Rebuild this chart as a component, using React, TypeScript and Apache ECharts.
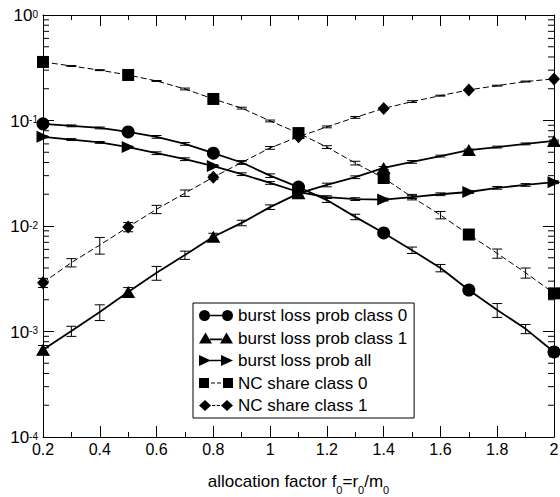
import React, { useEffect, useRef } from "react";
import * as echarts from "echarts";

const FONT = "'Liberation Sans', Arial, Helvetica, sans-serif";

const xValues = [0.2, 0.3, 0.4, 0.5, 0.6, 0.7, 0.8, 0.9, 1.0, 1.1, 1.2, 1.3, 1.4, 1.5, 1.6, 1.7, 1.8, 1.9, 2.0];

const lossClass0 = [0.093, 0.089, 0.085, 0.078, 0.07, 0.06, 0.049, 0.04, 0.03, 0.0234, 0.0176, 0.0122, 0.0086, 0.0059, 0.004, 0.00247, 0.0016, 0.00106, 0.00064];
const lossClass1 = [0.00067, 0.00101, 0.00153, 0.00237, 0.0036, 0.0053, 0.0079, 0.0107, 0.0151, 0.0204, 0.0245, 0.029, 0.0355, 0.0405, 0.046, 0.0525, 0.056, 0.06, 0.064];
const lossAll = [0.07, 0.066, 0.062, 0.056, 0.049, 0.043, 0.037, 0.031, 0.0256, 0.021, 0.0188, 0.018, 0.0178, 0.0188, 0.02, 0.021, 0.023, 0.0245, 0.026];
const ncShare0 = [0.359, 0.329, 0.3, 0.27, 0.237, 0.199, 0.16, 0.131, 0.099, 0.076, 0.056, 0.0395, 0.0285, 0.0188, 0.0127, 0.0083, 0.0055, 0.0036, 0.0023];
const ncShare1 = [0.0029, 0.0045, 0.0066, 0.0098, 0.0144, 0.0205, 0.029, 0.04, 0.055, 0.07, 0.087, 0.107, 0.13, 0.151, 0.172, 0.195, 0.214, 0.234, 0.248];

// relative half-widths of the error bars
const lossClass0Err = [0.01, 0.02, 0.02, 0.02, 0.03, 0.03, 0.03, 0.03, 0.04, 0.04, 0.05, 0.06, 0.07, 0.07, 0.08, 0.09, 0.15, 0.1, 0.1];
const lossClass1Err = [0.1, 0.11, 0.17, 0.1, 0.15, 0.09, 0.08, 0.06, 0.05, 0.04, 0.04, 0.03, 0.03, 0.03, 0.02, 0.02, 0.02, 0.02, 0.02];
const lossAllErr = [0.02, 0.02, 0.02, 0.02, 0.03, 0.03, 0.03, 0.03, 0.03, 0.03, 0.03, 0.03, 0.03, 0.03, 0.03, 0.03, 0.03, 0.03, 0.03];
const ncShare0Err = [0.01, 0.01, 0.01, 0.01, 0.01, 0.02, 0.02, 0.02, 0.02, 0.03, 0.03, 0.04, 0.04, 0.06, 0.08, 0.08, 0.1, 0.11, 0.1];
const ncShare1Err = [0.1, 0.09, 0.18, 0.1, 0.09, 0.07, 0.05, 0.04, 0.03, 0.03, 0.02, 0.02, 0.02, 0.02, 0.01, 0.01, 0.01, 0.01, 0.01];

const seriesNames = [
  "burst loss prob class 0",
  "burst loss prob class 1",
  "burst loss prob all",
  "NC share class 0",
  "NC share class 1",
];

const xTickLabels = ["0.2", "0.4", "0.6", "0.8", "1", "1.2", "1.4", "1.6", "1.8", "2"];
const yMin = 1e-4;
const yMax = 1;
const yMinorTicks: number[] = [];
for (let e = -4; e < 0; e++) {
  for (let m = 2; m <= 9; m++) yMinorTicks.push(m * Math.pow(10, e));
}

const legendIcons = [
  "path://M0,5.5A5.5,5.5,0,1,0,11,5.5A5.5,5.5,0,1,0,0,5.5ZM23,5.5A5.5,5.5,0,1,0,34,5.5A5.5,5.5,0,1,0,23,5.5ZM11,4.7H23V6.3H11Z",
  "path://M0,11L6.5,0L13,11ZM21,11L27.5,0L34,11ZM11,6.1H23V7.7H11Z",
  "path://M0,0L12,5.5L0,11ZM22,0L34,5.5L22,11ZM11,4.7H23V6.3H11Z",
  "path://M0,0.5H10V10.5H0ZM24,0.5H34V10.5H24ZM12,4.9H16V6.1H12ZM18,4.9H22V6.1H18Z",
  "path://M0,5.5L6,0L12,5.5L6,11ZM22,5.5L28,0L34,5.5L28,11ZM13,4.9H16.3V6.1H13ZM17.7,4.9H21V6.1H17.7Z",
];

const seriesDefs = [
  { name: seriesNames[0], values: lossClass0, err: lossClass0Err, dashed: false, symbol: "circle", size: 13, rotate: 0 },
  { name: seriesNames[1], values: lossClass1, err: lossClass1Err, dashed: false, symbol: "triangle", size: [14, 12], rotate: 0 },
  { name: seriesNames[2], values: lossAll, err: lossAllErr, dashed: false, symbol: "triangle", size: [12, 13], rotate: -90 },
  { name: seriesNames[3], values: ncShare0, err: ncShare0Err, dashed: true, symbol: "rect", size: 12, rotate: 0 },
  { name: seriesNames[4], values: ncShare1, err: ncShare1Err, dashed: true, symbol: "diamond", size: [12, 13], rotate: 0 },
];

export default function App() {
  const ref = useRef<HTMLDivElement>(null);

  useEffect(() => {
    const chart = echarts.init(ref.current!, null, { renderer: "svg" });

    const series: any[] = [];

    // minor ticks of the log axis (left and right)
    series.push({
      type: "custom",
      name: "yMinorTicks",
      silent: true,
      data: yMinorTicks.map((v) => [xValues[0], v]),
      encode: { x: 0, y: 1 },
      renderItem: (_p: any, api: any) => {
        const v = api.value(1);
        const pl = api.coord([0.2, v]);
        const pr = api.coord([2.0, v]);
        return {
          type: "group",
          children: [
            { type: "line", shape: { x1: pl[0], y1: pl[1], x2: pl[0] + 6, y2: pl[1] }, style: { stroke: "#000", lineWidth: 1 } },
            { type: "line", shape: { x1: pr[0], y1: pr[1], x2: pr[0] - 6, y2: pr[1] }, style: { stroke: "#000", lineWidth: 1 } },
          ],
        };
      },
      z: 1,
    });

    seriesDefs.forEach((d) => {
      // error bars
      series.push({
        type: "custom",
        name: d.name + " err",
        silent: true,
        data: xValues.map((x, i) => [x, d.values[i], d.values[i] * (1 - d.err[i]), d.values[i] * (1 + d.err[i])]),
        encode: { x: 0, y: 1 },
        renderItem: (_p: any, api: any) => {
          const x = api.value(0);
          const lo = api.coord([x, api.value(2)]);
          const hi = api.coord([x, api.value(3)]);
          const w = 5;
          const st = { stroke: "#000", lineWidth: 1 };
          return {
            type: "group",
            children: [
              { type: "line", shape: { x1: lo[0], y1: lo[1], x2: hi[0], y2: hi[1] }, style: st },
              { type: "line", shape: { x1: lo[0] - w, y1: lo[1], x2: lo[0] + w, y2: lo[1] }, style: st },
              { type: "line", shape: { x1: hi[0] - w, y1: hi[1], x2: hi[0] + w, y2: hi[1] }, style: st },
            ],
          };
        },
        z: 2,
      });
      // line
      series.push({
        type: "line",
        name: d.name + " line",
        data: xValues.map((x, i) => [x, d.values[i]]),
        symbol: "none",
        lineStyle: d.dashed
          ? { color: "#000", width: 1, type: [6, 3] }
          : { color: "#000", width: 1.8 },
        itemStyle: { color: "#000" },
        z: 3,
        silent: true,
      });
      // markers at every third point
      series.push({
        type: "scatter",
        name: d.name,
        data: xValues.map((x, i) => [x, d.values[i]]).filter((_v, i) => i % 3 === 0),
        symbol: d.symbol,
        symbolSize: d.size,
        symbolRotate: d.rotate,
        itemStyle: { color: "#000", opacity: 1 },
        z: 4,
        silent: true,
      });
    });

    const axisCommon = {
      axisLine: { show: true, lineStyle: { color: "#000", width: 1 } },
      splitLine: { show: false },
    };

    const option: any = {
      animation: false,
      backgroundColor: "#fff",
      textStyle: { fontFamily: FONT },
      grid: { left: 43, right: 6, top: 15, bottom: 60, containLabel: false, outerBoundsMode: "none" },
      xAxis: [
        {
          type: "value",
          min: 0.2,
          max: 2,
          interval: 0.2,
          position: "bottom",
          ...axisCommon,
          axisTick: { show: true, inside: true, length: 11, lineStyle: { color: "#000" } },
          minorTick: { show: true, splitNumber: 2, length: 5, lineStyle: { color: "#000" } },
          axisLabel: {
            show: true,
            color: "#000",
            fontSize: 16,
            fontFamily: FONT,
            margin: 4,
            formatter: (v: number) => {
              const idx = Math.round((v - 0.2) / 0.2);
              return xTickLabels[idx] ?? "";
            },
          },
          name: "{a|allocation factor f}{s|0}{a|=r}{s|0}{a|/m}{s|0}",
          nameLocation: "middle",
          nameGap: 33,
          nameTextStyle: {
            rich: {
              a: { fontSize: 17, fontFamily: FONT, color: "#000", lineHeight: 22 },
              s: { fontSize: 11, fontFamily: FONT, color: "#000", verticalAlign: "bottom", lineHeight: 22, padding: [0, 0, -3, 0] },
            },
          },
        },
        {
          type: "value",
          min: 0.2,
          max: 2,
          interval: 0.2,
          position: "top",
          ...axisCommon,
          axisTick: { show: true, inside: true, length: 11, lineStyle: { color: "#000" } },
          minorTick: { show: true, splitNumber: 2, length: 5, lineStyle: { color: "#000" } },
          axisLabel: { show: false },
        },
      ],
      yAxis: [
        {
          type: "log",
          logBase: 10,
          min: yMin,
          max: yMax,
          position: "left",
          ...axisCommon,
          axisTick: { show: true, inside: true, length: 11, lineStyle: { color: "#000" } },
          axisLabel: {
            show: true,
            margin: 5,
            formatter: (v: number) => `{b|10}{s|${Math.round(Math.log10(v))}}`,
            rich: {
              b: { fontSize: 17, fontFamily: FONT, color: "#000", lineHeight: 18, verticalAlign: "bottom" },
              s: { fontSize: 10, fontFamily: FONT, color: "#000", verticalAlign: "top", lineHeight: 12, padding: [3, 0, 9, 0] },
            },
          },
        },
        {
          type: "log",
          logBase: 10,
          min: yMin,
          max: yMax,
          position: "right",
          ...axisCommon,
          axisTick: { show: true, inside: true, length: 11, lineStyle: { color: "#000" } },
          axisLabel: { show: false },
        },
      ],
      legend: {
        orient: "vertical",
        left: 193,
        top: 303,
        itemWidth: 34,
        itemHeight: 11,
        itemGap: 5.5,
        symbolKeepAspect: true,
        padding: [4, 7, 4, 6],
        borderColor: "#000",
        borderWidth: 1,
        borderRadius: 0,
        backgroundColor: "#fff",
        selectedMode: false,
        itemStyle: { borderWidth: 0 },
        textStyle: { fontSize: 17, color: "#000", fontFamily: FONT, lineHeight: 14 },
        data: seriesNames.map((n, i) => ({ name: n, icon: legendIcons[i] })),
        z: 10,
      },
      series,
    };

    chart.setOption(option);
    return () => chart.dispose();
  }, []);

  return (
    <div
      ref={ref}
      style={{ position: "fixed", left: 0, top: 0, width: 560, height: 497, background: "#fff" }}
    />
  );
}
